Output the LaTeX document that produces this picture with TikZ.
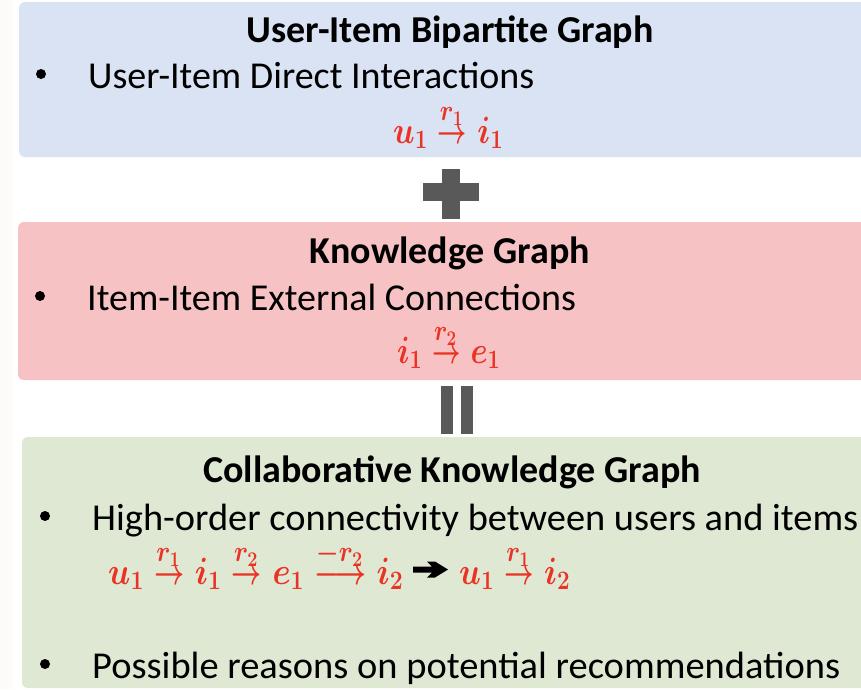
\RequirePackage{fix-cm}
\documentclass[tikz,border=0pt]{standalone}
\usepackage{amsmath}
\usepackage{fontspec}
\setmainfont{Carlito}
\definecolor{boxblue}{HTML}{DAE3F3}
\definecolor{boxpink}{HTML}{F6C2C3}
\definecolor{boxgreen}{HTML}{DEE8D3}
\definecolor{opgray}{HTML}{595959}
\definecolor{relred}{HTML}{EA3323}
\definecolor{margin}{HTML}{FCFBF7}
% short relation arrow with a label on top
\newcommand\rto[1]{\mathrel{\overset{\scalebox{1.1}{$\scriptstyle #1$}}{\hbox{\scalebox{0.8}[1]{$\rightarrow$}}}}}
\newcommand\lrto[1]{\mathrel{\overset{\scalebox{1.1}{$\scriptstyle #1$}}{\hbox{\scalebox{0.85}[1]{$\longrightarrow$}}}}}
% set a formula to a given width
\newcommand\fitw[2]{\resizebox{#1}{\height}{#2}}
\tikzset{
  panel/.style={rounded corners=6pt, draw=none},
  heading/.style={anchor=base, inner sep=0pt, font=\fontsize{38}{44}\selectfont\bfseries},
  item/.style={anchor=base west, inner sep=0pt, font=\fontsize{38}{44}\selectfont},
  dot/.style={circle, fill=black, inner sep=0pt, minimum size=10pt},
  rel/.style={anchor=base west, inner sep=0pt, text=relred, font=\fontsize{38}{44}\selectfont\boldmath},
  opbar/.style={fill=opgray, draw=none}
}
\begin{document}
\begin{tikzpicture}[x=1pt, y=-1pt]
\useasboundingbox (0,0) rectangle (861,689);
\fill[white] (0,0) rectangle (861,689);
\fill[margin] (0,0) rectangle (13,689);

% user-item panel
\fill[panel, boxblue] (19,2) rectangle (900,157);
\node[heading] (t1) at (450,42) {User-Item Bipartite Graph};
\node[dot] (b1) at (41,74) {};
\node[item] (l1) at (88,88) {User-Item Direct Interactions};
\node[rel] (f1) at (393,143) {\fitw{110pt}{$u_1\rto{r_1} i_1$}};

% plus sign
\fill[opbar] (442,169) rectangle (460,219);
\fill[opbar] (423,183) rectangle (479,201);

% knowledge graph panel
\fill[panel, boxpink] (18,222) rectangle (900,380);
\node[heading] (t2) at (450,263) {Knowledge Graph};
\node[dot] (b2) at (40,296) {};
\node[item] (l2) at (87,310) {Item-Item External Connections};
\node[rel] (f2) at (397,363) {\fitw{103pt}{$i_1\rto{r_2} e_1$}};

% equals sign
\fill[opbar] (441,386) rectangle (453,434);
\fill[opbar] (461,386) rectangle (473,434);

% collaborative knowledge graph panel
\fill[panel, boxgreen] (22,437) rectangle (900,688);
\node[heading] (t3) at (452,482) {Collaborative Knowledge Graph};
\node[dot] (b3) at (45,516) {};
\node[item] (l3) at (92,530) {\resizebox{766pt}{\height}{High-order connectivity between users and items}};
\node[rel] (f3) at (108,584) {\fitw{295pt}{$u_1\rto{r_1} i_1\rto{r_2} e_1\lrto{-r_2} i_2$}};
\fill (413,566.5) -- (432,566.5) -- (427,561.5) -- (435,561.5) -- (448,569.5)
      -- (435,577.5) -- (427,577.5) -- (432,572.5) -- (413,572.5) -- cycle;
\node[rel] (f4) at (459,584) {\fitw{111pt}{$u_1\rto{r_1} i_2$}};
\node[dot] (b4) at (45,664) {};
\node[item] (l4) at (92,678) {\resizebox{748pt}{\height}{Possible reasons on potential recommendations}};
\end{tikzpicture}
\end{document}
